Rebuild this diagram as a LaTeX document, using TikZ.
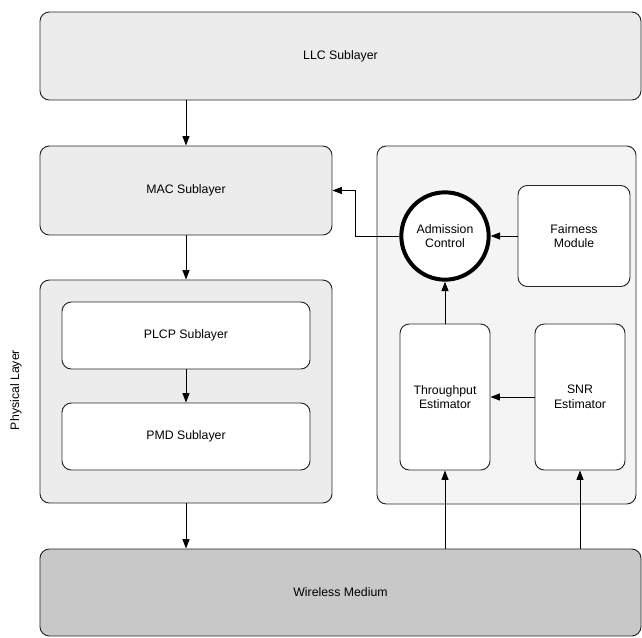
\documentclass[tikz,border=0pt]{standalone}
\usepackage{fontspec}
\setmainfont{Liberation Sans}
\usetikzlibrary{arrows.meta,calc}
\definecolor{paneink}{RGB}{236,236,236}
\definecolor{softink}{RGB}{244,244,244}
\definecolor{mediumink}{RGB}{200,200,200}
\definecolor{lineink}{RGB}{40,40,40}

\begin{document}
\begin{tikzpicture}[x=0.03cm,y=-0.03cm,font=\fontsize{10.5}{12.5}\selectfont,
  layer/.style={draw=lineink,line width=0.8pt,rounded corners=8pt,inner sep=0pt},
  arr/.style={-{Triangle[length=8pt,width=6pt]},line width=0.7pt}]
\useasboundingbox (0,0) rectangle (642,637);
% layers
\node[layer,fill=paneink,minimum width=18.03cm,minimum height=2.64cm] (llc) at (340.5,56) {LLC Sublayer};
\node[layer,fill=paneink,minimum width=8.76cm,minimum height=2.67cm] (mac) at (186,190.5) {MAC Sublayer};
\node[layer,fill=paneink,minimum width=8.76cm,minimum height=6.69cm] (phy) at (186,391.5) {};
\node[rotate=90] (phylab) at (16,390) {Physical Layer};
\node[layer,fill=white,minimum width=7.44cm,minimum height=2.01cm] (plcp) at (186,335.5) {PLCP Sublayer};
\node[layer,fill=white,minimum width=7.44cm,minimum height=2.01cm] (pmd) at (186,436.5) {PMD Sublayer};
\node[layer,fill=mediumink,minimum width=18.03cm,minimum height=2.61cm] (wm) at (340.5,592.5) {Wireless Medium};
% admission block
\node[layer,fill=softink,minimum width=7.77cm,minimum height=10.74cm] (panel) at (506.5,325) {};
\node[circle,draw=black,line width=3.4pt,fill=white,minimum size=2.62cm,align=center,inner sep=0pt] (adm) at (445,236) {Admission\\Control};
\node[layer,fill=white,minimum width=3.36cm,minimum height=3.03cm,align=center] (fair) at (574,236) {Fairness\\Module};
\node[layer,fill=white,minimum width=2.7cm,minimum height=4.38cm,align=center] (thr) at (445,397) {Throughput\\Estimator};
\node[layer,fill=white,minimum width=2.7cm,minimum height=4.38cm,align=center] (snr) at (580,397) {SNR\\Estimator};
% connectors
\draw[arr] (llc.south -| mac.north) -- (mac.north);
\draw[arr] (mac.south) -- (phy.north);
\draw[arr] (plcp.south) -- (pmd.north);
\draw[arr] (phy.south) -- (wm.north -| phy.south);
\coordinate (turn) at (355,236);
\draw[arr] (adm.west) -- (turn) |- (mac.east);
\draw[arr] (fair.west) -- (adm.east);
\draw[arr] (thr.north) -- (adm.south);
\draw[arr] (snr.west) -- (thr.east);
\draw[arr] (wm.north -| thr.south) -- (thr.south);
\draw[arr] (wm.north -| snr.south) -- (snr.south);
\end{tikzpicture}
\end{document}
